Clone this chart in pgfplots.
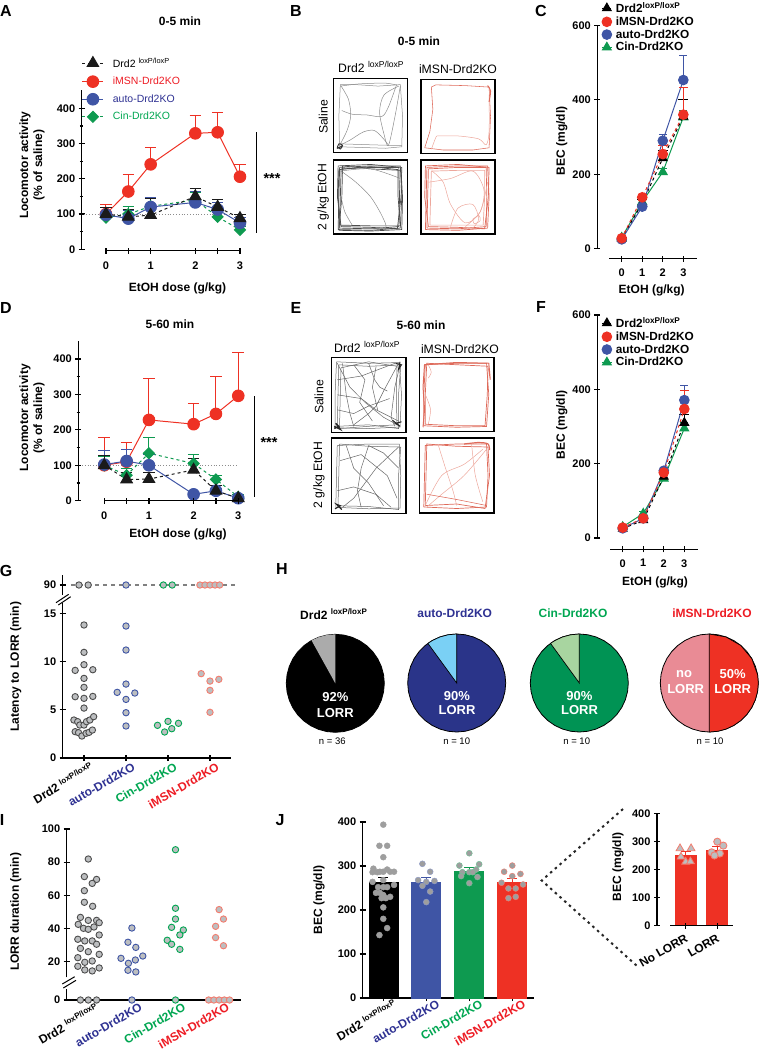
\documentclass[border=0pt]{standalone}
\usepackage{fontspec}
\setmainfont{Liberation Sans}
\usepackage{pgfplots}
\usepackage{pgfplotstable}
\pgfplotsset{compat=1.18}

\definecolor{cred}{HTML}{EE3124}
\definecolor{cblue}{HTML}{3F55A5}
\definecolor{cgreen}{HTML}{0E9A50}
\definecolor{cblack}{HTML}{1A1A1A}
\definecolor{lblue}{HTML}{2E3192}
\definecolor{lgreen}{HTML}{00A651}
\definecolor{lred}{HTML}{ED1C24}
\definecolor{dotfill}{HTML}{BCBEC0}
\definecolor{pinkedge}{HTML}{F47C6E}
\definecolor{trajred}{HTML}{DE6A5A}
\definecolor{trajpink}{HTML}{EDA79C}
\definecolor{skywedge}{HTML}{7AD0F5}
\definecolor{mintwedge}{HTML}{A8D5A0}
\definecolor{rosewedge}{HTML}{E98B95}
\definecolor{piegreen}{HTML}{009354}
\definecolor{pieblue}{HTML}{2A3489}

\pgfplotsset{
  noarrow/.style={axis line style={-, line width=1.5pt, black}},
  base/.style={scale only axis, clip=false, anchor=south west,
    /pgf/number format/assume math mode=true,
    tick label style={font=\fontsize{11}{13}\selectfont\bfseries},
    label style={font=\fontsize{12}{14}\selectfont\bfseries},
    tick style={line width=1.2pt, black},
    major tick length=6pt, minor tick length=3.5pt, tick align=outside},
  yonly/.style={base, axis y line=left, axis x line=none, xtick=\empty, noarrow},
  xonly/.style={base, axis x line=bottom, axis y line=none, ytick=\empty,
    height=1pt, ymin=0, ymax=1, noarrow},
  xyaxis/.style={base, axis x line=bottom, axis y line=left, noarrow},
  errs/.style={/pgfplots/error bars/y dir=plus, /pgfplots/error bars/y explicit,
    /pgfplots/error bars/error bar style={line width=1pt, solid},
    /pgfplots/error bars/error mark options={rotate=90, mark size=#1, line width=1pt, solid}},
  sred/.style={color=cred, line width=1pt, mark=*, mark size=5.8pt, mark options={solid}},
  sblue/.style={color=cblue, line width=1pt, mark=*, mark size=5.8pt, mark options={solid}},
  sblack/.style={color=cblack, line width=1pt, dashed, mark=triangle*, mark size=6.6pt, mark options={solid}},
  sgreen/.style={color=cgreen, line width=1pt, dashed, mark=square*, mark size=3.9pt, mark options={solid, rotate=45}},
  tred/.style={color=cred, line width=1pt, dashed, mark=*, mark size=4.8pt, mark options={solid}},
  tblue/.style={color=cblue, line width=1pt, mark=*, mark size=4.8pt, mark options={solid}},
  tblack/.style={color=black, line width=1pt, dashed, mark=triangle*, mark size=5pt, mark options={solid}},
  tgreen/.style={color=cgreen, line width=1pt, mark=triangle*, mark size=5pt, mark options={solid}},
  pts/.style={only marks, mark=*, mark size=3.2pt, mark options={fill=dotfill, draw=#1, line width=.9pt}},
  box/.style={scale only axis, anchor=south west, xmin=0, xmax=100, ymin=0, ymax=100,
    width=74pt, height=74pt, xtick=\empty, ytick=\empty, axis line style={line width=1.3pt}},
  tg/.style={no marks, smooth, tension=.5, line width=.5pt, draw=black!45},
  tk/.style={no marks, line width=.5pt, draw=black!60},
  tr/.style={no marks, smooth, tension=.5, line width=.55pt, draw=trajred},
  tp/.style={no marks, smooth, tension=.5, line width=.5pt, draw=trajpink},
  rimk/.style={no marks, line width=.7pt, draw=black!70},
  rimr/.style={no marks, line width=.7pt, draw=trajred},
  catlabels/.style={xtick={0,1,2,3},
    xticklabels={{\color{black}\drd},{\color{lblue}auto-Drd2KO},{\color{lgreen}Cin-Drd2KO},{\color{lred}iMSN-Drd2KO}}},
  pie/.style={hide axis, scale only axis, clip=false, anchor=center, width=98pt, height=98pt,
    xmin=-1, xmax=1, ymin=-1, ymax=1, data cs=polar},
  bigleg/.style={legend cell align=left, legend style={draw=none, fill=none,
    font=\fontsize{10.5}{12}\selectfont, row sep=4.5pt, inner sep=0pt,
    /tikz/every odd column/.append style={column sep=7pt}},
    legend image code/.code={\draw[mark repeat=2, mark phase=2, ##1] plot coordinates {(0pt,0pt) (10.5pt,0pt) (21pt,0pt)};}},
  smallleg/.style={legend cell align=left, legend style={draw=none, fill=none,
    font=\fontsize{11.8}{13}\selectfont\bfseries, row sep=-1.3pt, inner sep=0pt,
    /tikz/every odd column/.append style={column sep=1.5pt}},
    legend image code/.code={\draw[mark repeat=2, mark phase=2, ##1] plot coordinates {(0pt,0pt) (5pt,0pt) (10pt,0pt)};}},
}

\pgfplotstableread[row sep=\\]{a r\\0 1\\10 1\\20 1\\30 1\\40 1\\50 1\\60 1\\70 1\\80 1\\90 1\\100 1\\110 1\\120 1\\130 1\\140 1\\150 1\\160 1\\170 1\\180 1\\190 1\\200 1\\210 1\\220 1\\230 1\\240 1\\250 1\\260 1\\270 1\\280 1\\290 1\\300 1\\310 1\\320 1\\330 1\\340 1\\350 1\\}\circlepts
\pgfplotstableread[row sep=\\]{a r\\90 0\\90 1\\100 1\\110 1\\119 1\\}\wedgeeight
\pgfplotstableread[row sep=\\]{a r\\90 0\\90 1\\100 1\\110 1\\120 1\\126 1\\}\wedgeten
\pgfplotstableread[row sep=\\]{a r\\90 1\\70 1\\50 1\\30 1\\10 1\\0 1\\-10 1\\-20 1\\-30 1\\-40 1\\-50 1\\-60 1\\-70 1\\-80 1\\-90 1\\}\halfpie

\newcommand{\txt}[4][]{\node[anchor=center, inner sep=0pt, #1] at (#2pt,-#3pt) {#4};}
\newcommand{\ttl}{\fontsize{12}{14}\selectfont\bfseries}
\newcommand{\reg}{\fontsize{12.2}{14}\selectfont}
\newcommand{\pan}{\fontsize{16}{18}\selectfont\bfseries}
\newcommand{\wh}{\fontsize{13}{15}\selectfont\bfseries\color{white}}
\newcommand{\stars}{\fontsize{14.5}{16}\selectfont\bfseries}
\newcommand{\drd}{Drd2 \textsuperscript{loxP/loxP}}

\begin{document}
\begin{tikzpicture}
\path[use as bounding box] (0pt,0pt) rectangle (759pt,-1050pt);

% panel letters
\txt{6}{11}{\pan A} \txt{296}{11}{\pan B} \txt{541}{11}{\pan C}
\txt{6}{308}{\pan D} \txt{296}{308}{\pan E} \txt{541}{307}{\pan F}
\txt{6}{571}{\pan G} \txt{282}{569}{\pan H} \txt{2}{820}{\pan I} \txt{280}{820}{\pan J}

% ---- A
\txt{180}{21}{\ttl 0-5 min}
\begin{axis}[yonly, bigleg, at={(81.7pt,-249.3pt)}, width=167.2pt, height=159.3pt,
  xmin=-.544, xmax=3.2, ymin=0, ymax=452, ytick={0,100,200,300,400}, minor y tick num=1,
  ylabel={Locomotor activity\\(\% of saline)},
  ylabel style={at={(axis description cs:-.297,.529)}, anchor=center, align=center},
  legend style={at={(axis description cs:0,1.216)}, anchor=north west}]
\addlegendimage{sblack} \addlegendentry{\drd}
\addlegendimage{sred} \addlegendentry{\textcolor{lred}{iMSN-Drd2KO}}
\addlegendimage{sblue} \addlegendentry{\textcolor{lblue}{auto-Drd2KO}}
\addlegendimage{sgreen} \addlegendentry{\textcolor{lgreen}{Cin-Drd2KO}}
\addplot[black!45, dash pattern=on .8pt off 2pt, line width=.8pt, forget plot] coordinates {(-.5,100) (3,100)};
\addplot[sred, errs=5.8pt, forget plot] coordinates {(0,100) +- (0,26) (.5,164) +- (0,49) (1,241) +- (0,49) (2,329) +- (0,52) (2.5,332) +- (0,56) (3,206) +- (0,36)};
\addplot[sgreen, errs=5.8pt, forget plot] coordinates {(0,90) +- (0,15) (.5,100) +- (0,22) (1,122) +- (0,21) (2,140) +- (0,20) (2.5,92) +- (0,18) (3,55) +- (0,10)};
\addplot[sblue, errs=5.8pt, forget plot] coordinates {(0,98) +- (0,22) (.5,87) +- (0,23) (1,120) +- (0,28) (2,133) +- (0,32) (2.5,113) +- (0,20) (3,75) +- (0,15)};
\addplot[sblack, errs=5.8pt, forget plot] coordinates {(0,100) +- (0,20) (.5,92) +- (0,21) (1,97) +- (0,48) (2,150) +- (0,23) (2.5,120) +- (0,22) (3,88) +- (0,12)};
\end{axis}
\begin{axis}[xonly, at={(106pt,-250.7pt)}, width=134pt, xmin=0, xmax=3,
  xtick={0,.5,1,2,2.5,3}, xticklabels={0,,1,2,,3}, xlabel={EtOH dose (g/kg)},
  xticklabel style={yshift=-5pt},
  xlabel style={at={(axis description cs:.534,-37.3)}, anchor=center}]
\end{axis}
\draw[line width=1pt] (256.7pt,-132pt) -- (256.7pt,-233pt);
\txt{272}{179}{\stars ***}

% ---- B
\txt{419}{41}{\ttl 0-5 min}
\txt[anchor=west]{338}{67}{\reg \drd}
\txt{458}{69}{\reg iMSN-Drd2KO}
\txt[rotate=90]{323.3}{117}{\reg Saline}
\txt[rotate=90]{323.3}{197}{\reg 2 g/kg EtOH}
\begin{axis}[box, at={(333.7pt,-152.7pt)}]
\addplot[tg, sharp plot] coordinates {(8,8)(40,7)(70,6)(92,8)(93,50)(90,92)(60,90)(30,92)(9,92)(7,50)(8,8)};
\addplot[tg] coordinates {(8,12)(40,11)(75,10)(92,10)};
\addplot[tg] coordinates {(9,90)(35,93)(70,94)(86,91)};
\addplot[tg] coordinates {(10,90)(20,72)(23,50)(18,30)(8,10)};
\addplot[tg] coordinates {(11,57)(25,52)(45,51)(65,49)(74,62)(85,92)};
\addplot[tg] coordinates {(88,90)(68,78)(62,55)(68,25)(74,10)(83,50)(90,90)};
\addplot[tg] coordinates {(8,10)(22,17)(40,28)(55,30)(68,18)(74,10)};
\addplot[tg, draw=black!80, line width=.9pt] coordinates {(5,8)(9,5)(12,10)(7,12)(5,6)(11,9)};
\end{axis}
\begin{axis}[box, at={(421pt,-153.7pt)}]
\addplot[tr, sharp plot] coordinates {(5,8)(30,5)(70,5)(92,8)(94,50)(92,90)(60,92)(20,93)(14,90)(16,60)(12,30)(5,8)};
\addplot[tp] coordinates {(22,24)(50,24)(78,20)(88,12)(92,30)(92,80)};
\addplot[tp] coordinates {(14,6)(20,22)(22,24)};
\addplot[tr, line width=1pt] coordinates {(90,92)(94,85)(92,70)};
\end{axis}
\begin{axis}[box, at={(333.7pt,-234pt)}]
\addplot[rimk] coordinates {(6,6)(50,5)(90,8)(92,50)(90,92)(50,92)(8,90)(7,50)(6,6)};
\addplot[rimk] coordinates {(8,8)(50,7)(88,10)(89,50)(88,90)(50,90)(10,88)(9,50)(8,8)};
\addplot[rimk] coordinates {(10,10)(50,9)(86,7)(91,50)(92,90)(50,94)(6,92)(5,50)(10,10)};
\addplot[rimk] coordinates {(7,5)(50,4)(92,6)(93,50)(91,86)(50,88)(12,92)(11,50)(7,5)};
\addplot[rimk] coordinates {(9,12)(50,11)(90,11)(87,50)(87,87)(50,91)(7,87)(6,50)(9,12)};
\addplot[tg] coordinates {(9,85)(50,88)(90,75)};
\addplot[tg] coordinates {(10,85)(30,70)(50,50)(65,25)(70,8)(45,8)};
\addplot[tg] coordinates {(10,50)(15,30)(25,12)};
\end{axis}
\begin{axis}[box, at={(421pt,-234pt)}]
\addplot[rimr] coordinates {(6,6)(50,5)(90,8)(92,50)(90,92)(50,92)(8,90)(7,50)(6,6)};
\addplot[rimr] coordinates {(8,8)(50,7)(88,10)(89,50)(88,90)(50,90)(10,88)(9,50)(8,8)};
\addplot[rimr] coordinates {(10,10)(50,9)(86,7)(91,50)(92,90)(50,94)(6,92)(5,50)(10,10)};
\addplot[rimr, draw=trajpink] coordinates {(12,12)(50,12)(84,12)(86,50)(86,86)(50,86)(14,85)(13,50)(12,12)};
\addplot[tp] coordinates {(15,85)(30,70)(40,40)(60,15)(80,30)(90,70)};
\addplot[tp] coordinates {(40,10)(50,35)(70,40)(78,20)(70,8)};
\addplot[tp] coordinates {(10,70)(40,75)(70,85)(85,60)(80,30)(60,10)};
\addplot[tp] coordinates {(70,20)(78,25)(80,18)(72,14)(70,20)};
\end{axis}

% ---- C
\begin{axis}[yonly, smallleg, at={(597.3pt,-248.7pt)}, width=96.3pt, height=223.4pt,
  xmin=-1.188, xmax=3.5, ymin=0, ymax=600, ytick={0,200,400,600},
  ylabel={BEC (mg/dl)},
  ylabel style={at={(axis description cs:-.37,.483)}, anchor=center},
  legend style={at={(axis description cs:.04,1.113)}, anchor=north west}]
\addlegendimage{tblack} \addlegendentry{Drd2\textsuperscript{loxP/loxP}}
\addlegendimage{tred} \addlegendentry{iMSN-Drd2KO}
\addlegendimage{tblue} \addlegendentry{auto-Drd2KO}
\addlegendimage{tgreen} \addlegendentry{Cin-Drd2KO}
\addplot[tgreen, errs=4pt, forget plot] coordinates {(0,30) +- (0,4) (1,126) +- (0,8) (2,206) +- (0,9) (3,353) +- (0,19)};
\addplot[tblack, errs=5pt, forget plot] coordinates {(0,27) +- (0,4) (1,122) +- (0,11) (2,243) +- (0,22) (3,355) +- (0,45)};
\addplot[tblue, errs=4pt, forget plot] coordinates {(0,25) +- (0,4) (1,113) +- (0,8) (2,290) +- (0,17) (3,453) +- (0,65)};
\addplot[tred, errs=4.5pt, forget plot] coordinates {(0,28) +- (0,4) (1,138) +- (0,8) (2,254) +- (0,24) (3,360) +- (0,72)};
\end{axis}
\begin{axis}[xonly, at={(609.3pt,-258.7pt)}, width=88pt, xmin=-.6, xmax=3.68,
  xtick={0,1,2,3}, xlabel={EtOH (g/kg)}, xticklabel style={yshift=-4pt},
  xlabel style={at={(axis description cs:.482,-32)}, anchor=center}]
\end{axis}

% ---- D
\txt{170}{324}{\ttl 5-60 min}
\begin{axis}[yonly, at={(78.3pt,-500.7pt)}, width=168.9pt, height=160pt,
  xmin=-.582, xmax=3.2, ymin=0, ymax=451.6, ytick={0,100,200,300,400}, minor y tick num=1,
  ylabel={Locomotor activity\\(\% of saline)},
  ylabel style={at={(axis description cs:-.274,.517)}, anchor=center, align=center}]
\addplot[black!45, dash pattern=on .8pt off 2pt, line width=.8pt] coordinates {(-.5,100) (3,100)};
\addplot[sred, errs=5.8pt] coordinates {(0,100) +- (0,79) (.5,110) +- (0,55) (1,228) +- (0,116) (2,216) +- (0,57) (2.5,245) +- (0,105) (3,296) +- (0,122)};
\addplot[sgreen, errs=5.8pt] coordinates {(0,100) +- (0,25) (.5,72) +- (0,20) (1,134) +- (0,43) (2,105) +- (0,25) (2.5,60) +- (0,10) (3,11) +- (0,7)};
\addplot[sblue, errs=5.8pt] coordinates {(0,102) +- (0,41) (.5,112) +- (0,33) (1,100) +- (0,30) (2,18) +- (0,7) (2.5,28) +- (0,7) (3,7) +- (0,5)};
\addplot[sblack, errs=5.8pt] coordinates {(0,100) +- (0,27) (.5,60) +- (0,20) (1,61) +- (0,19) (2,87) +- (0,31) (2.5,28) +- (0,14) (3,7) +- (0,5)};
\end{axis}
\begin{axis}[xonly, at={(104.3pt,-500.7pt)}, width=134pt, xmin=0, xmax=3,
  xtick={0,.5,1,2,2.5,3}, xticklabels={0,,1,2,,3}, xlabel={EtOH dose (g/kg)},
  xticklabel style={yshift=-5pt},
  xlabel style={at={(axis description cs:.55,-33.3)}, anchor=center}]
\end{axis}
\draw[line width=1pt] (254pt,-396pt) -- (254pt,-497pt);
\txt{269}{442.5}{\stars ***}

% ---- E
\txt{421}{325.7}{\ttl 5-60 min}
\txt[anchor=west]{334}{347}{\reg \drd}
\txt{460}{349}{\reg iMSN-Drd2KO}
\txt[rotate=90]{319}{397}{\reg Saline}
\txt[rotate=90]{319}{475}{\reg 2 g/kg EtOH}
\begin{axis}[box, at={(331.3pt,-432.3pt)}, width=74.7pt, height=75pt]
\addplot[tk] coordinates {(5,6)(50,5)(92,7)(94,50)(91,93)(50,92)(7,94)(5,50)(5,6)};
\addplot[tk] coordinates {(8,8)(50,10)(90,5)(90,50)(93,90)(50,88)(10,90)(9,50)(8,8)};
\addplot[tk] coordinates {(11,5)(50,8)(88,10)(87,50)(88,88)(50,94)(13,86)(12,50)(11,5)};
\addplot[tk] coordinates {(8,92)(25,60)(45,40)(70,20)(92,8)};
\addplot[tk] coordinates {(15,92)(20,50)(25,25)(30,8)};
\addplot[tk] coordinates {(8,70)(40,75)(85,92)};
\addplot[tk] coordinates {(90,92)(70,55)(60,35)(50,25)(30,10)};
\addplot[tk] coordinates {(92,90)(85,60)(80,20)(85,8)};
\addplot[tk] coordinates {(50,92)(58,70)(65,60)(75,55)};
\addplot[tk] coordinates {(8,50)(40,45)(60,30)(90,15)};
\addplot[tk] coordinates {(60,88)(55,60)(62,30)};
\addplot[tk] coordinates {(30,90)(45,70)(38,40)(55,15)};
\addplot[tk] coordinates {(8,30)(30,25)(50,35)(78,45)};
\addplot[tk, line width=1.4pt, draw=black!85] coordinates {(4,5)(10,8)(6,12)(12,4)(4,8)};
\addplot[tk, line width=1pt, draw=black!85] coordinates {(82,16)(92,8)(86,12)(94,14)};
\addplot[tk, line width=1pt, draw=black!85] coordinates {(86,92)(94,90)(90,84)(92,94)};
\end{axis}
\begin{axis}[box, at={(419.3pt,-431.7pt)}, width=74.7pt, height=74.4pt]
\addplot[rimr] coordinates {(6,8)(50,6)(90,7)(93,50)(90,92)(50,92)(8,90)(6,50)(6,8)};
\addplot[rimr] coordinates {(8,10)(50,8)(88,8)(91,50)(92,88)(50,90)(10,92)(8,50)(8,10)};
\addplot[rimr, line width=1pt] coordinates {(5,6)(7,30)(5,60)(7,90)(50,93)(93,92)(95,70)(93,85)};
\addplot[tp] coordinates {(8,50)(15,30)(12,10)};
\addplot[tp] coordinates {(12,90)(16,80)(12,72)};
\end{axis}
\begin{axis}[box, at={(331.3pt,-513.3pt)}, width=74.7pt, height=75.3pt]
\addplot[tk] coordinates {(6,8)(50,6)(92,7)(93,50)(91,92)(50,92)(8,90)(7,50)(6,8)};
\addplot[tk] coordinates {(9,10)(50,9)(90,5)(90,50)(93,88)(50,89)(11,92)(10,50)(9,10)};
\addplot[tk] coordinates {(20,90)(30,60)(50,40)(70,10)};
\addplot[tk] coordinates {(8,30)(30,35)(60,25)(80,8)};
\addplot[tk] coordinates {(90,88)(60,60)(30,20)(15,8)};
\addplot[tk] coordinates {(50,90)(40,60)(35,30)(40,8)};
\addplot[tk] coordinates {(90,60)(70,80)(50,90)};
\addplot[tk] coordinates {(12,70)(40,78)(75,50)(88,20)};
\addplot[tk, line width=1.2pt, draw=black!85] coordinates {(5,6)(12,10)(7,12)(14,5)};
\end{axis}
\begin{axis}[box, at={(419.3pt,-513pt)}, width=74.7pt, height=75pt]
\addplot[rimr] coordinates {(6,8)(50,6)(90,8)(92,50)(90,92)(50,92)(8,90)(7,50)(6,8)};
\addplot[rimr] coordinates {(8,10)(50,12)(88,6)(94,50)(92,88)(50,89)(10,92)(9,50)(8,10)};
\addplot[tp] coordinates {(8,10)(30,50)(60,65)(85,85)};
\addplot[tp] coordinates {(25,92)(35,60)(45,30)(50,10)};
\addplot[tp] coordinates {(70,92)(75,50)(85,15)};
\addplot[tp] coordinates {(90,85)(60,50)(30,25)(10,8)};
\addplot[tr] coordinates {(10,25)(50,18)(90,10)};
\addplot[tr, line width=1.2pt] coordinates {(60,92)(80,94)(92,92)(94,84)};
\end{axis}

% ---- F
\begin{axis}[yonly, smallleg, at={(597.3pt,-538pt)}, width=97.3pt, height=223pt,
  xmin=-1.237, xmax=3.5, ymin=0, ymax=600, ytick={0,200,400,600},
  ylabel={BEC (mg/dl)},
  ylabel style={at={(axis description cs:-.366,.507)}, anchor=center},
  legend style={at={(axis description cs:.04,1.0),}, anchor=north west}]
\addlegendimage{tblack} \addlegendentry{Drd2\textsuperscript{loxP/loxP}}
\addlegendimage{tred} \addlegendentry{iMSN-Drd2KO}
\addlegendimage{tblue} \addlegendentry{auto-Drd2KO}
\addlegendimage{tgreen} \addlegendentry{Cin-Drd2KO}
\addplot[tgreen, errs=4pt, forget plot] coordinates {(0,30) +- (0,4) (1,66) +- (0,6) (2,160) +- (0,8) (3,295) +- (0,15)};
\addplot[tblack, errs=5pt, forget plot] coordinates {(0,25) +- (0,4) (1,48) +- (0,5) (2,165) +- (0,10) (3,310) +- (0,21)};
\addplot[tblue, errs=4pt, forget plot] coordinates {(0,26) +- (0,4) (1,53) +- (0,5) (2,181) +- (0,8) (3,371) +- (0,38)};
\addplot[tred, errs=4.5pt, forget plot] coordinates {(0,28) +- (0,4) (1,53) +- (0,5) (2,176) +- (0,8) (3,347) +- (0,49)};
\end{axis}
\begin{axis}[xonly, at={(610pt,-549.3pt)}, width=87.7pt, xmin=-.618, xmax=3.654,
  xtick={0,1,2,3}, xlabel={EtOH (g/kg)}, xticklabel style={yshift=-3.5pt},
  xlabel style={at={(axis description cs:.513,-33.4)}, anchor=center}]
\end{axis}

% ---- G
\begin{axis}[yonly, at={(62.7pt,-595pt)}, width=168.3pt, height=20pt,
  xmin=-.507, xmax=3.5, ymin=80, ymax=100, ytick={90}]
\addplot[black!50, line width=2.6pt, dash pattern=on 4.5pt off 3.5pt] coordinates {(-.31,90) (3.63,90)};
\addplot[pts=black!70] coordinates {(-.12,90) (.1,90)};
\addplot[pts=cblue] coordinates {(1,90)};
\addplot[pts=lgreen] coordinates {(1.89,90) (2.1,90)};
\addplot[pts=pinkedge] coordinates {(2.76,90) (2.88,90) (3,90) (3.12,90) (3.23,90)};
\end{axis}
\begin{axis}[xyaxis, at={(62.7pt,-758pt)}, width=168.3pt, height=155pt,
  xmin=-.507, xmax=3.5, ymin=0, ymax=16.08, ytick={0,5,10,15}, catlabels,
  xticklabel style={xshift=7pt, yshift=4pt, rotate=30, anchor=north east, font=\fontsize{12}{14}\selectfont\bfseries},
  ylabel={Latency to LORR (min)},
  ylabel style={at={(axis description cs:-.279,.589)}, anchor=center}]
\addplot[pts=black!70] coordinates {(0,13.8)(0,10.96)(0,9.68)(-.21,9.09)(.21,9.16)(0,8.26)(0,7.33)(-.21,6.36)(0,6.19)(.21,6.39)(0,5.18)(-.24,3.94)(-.15,3.77)(-.1,3.42)(0,3.42)(.06,3.77)(.14,3.94)(.23,4.29)(-.21,2.73)(-.13,2.63)(-.05,2.28)(.05,2.56)(.12,2.66)(.2,2.9)};
\addplot[pts=cblue] coordinates {(1,13.69)(1,11.2)(1,7.67)(.79,6.81)(1.21,6.74)(1,6.08)(1,4.7)(1,3.32)};
\addplot[pts=lgreen] coordinates {(1.75,3.39)(2,3.8)(1.92,2.7)(2.09,3.04)(2.25,3.6)};
\addplot[pts=pinkedge] coordinates {(2.79,8.75)(3,7.98)(3.21,8.16)(3,7.02)(3,4.74)};
\end{axis}
\draw[line width=1pt] (56pt,-602.7pt) -- (68.7pt,-594.3pt) (58.3pt,-605pt) -- (70.7pt,-596.7pt);

% ---- H
\txt[anchor=west]{300}{614}{\ttl \drd}
\txt{454.7}{613}{\ttl\color{lblue} auto-Drd2KO}
\txt{573}{613}{\ttl\color{lgreen} Cin-Drd2KO}
\txt{712}{613.5}{\ttl\color{lred} iMSN-Drd2KO}
\begin{axis}[pie, at={(335.3pt,-683.3pt)}]
\addplot[fill=black, draw=black, line width=.8pt] table[x=a, y=r] {\circlepts} -- cycle;
\addplot[fill=black!33, draw=none] table[x=a, y=r] {\wedgeeight} -- cycle;
\end{axis}
\begin{axis}[pie, at={(456.7pt,-683pt)}]
\addplot[fill=pieblue, draw=black, line width=.8pt] table[x=a, y=r] {\circlepts} -- cycle;
\addplot[fill=skywedge, draw=black, line width=.7pt] table[x=a, y=r] {\wedgeten} -- cycle;
\end{axis}
\begin{axis}[pie, at={(579.3pt,-683pt)}]
\addplot[fill=piegreen, draw=black, line width=.8pt] table[x=a, y=r] {\circlepts} -- cycle;
\addplot[fill=mintwedge, draw=black, line width=.7pt] table[x=a, y=r] {\wedgeten} -- cycle;
\end{axis}
\begin{axis}[pie, at={(709.3pt,-683pt)}]
\addplot[fill=rosewedge, draw=black, line width=.8pt] table[x=a, y=r] {\circlepts} -- cycle;
\addplot[fill=cred, draw=black, line width=.7pt] table[x=a, y=r] {\halfpie} -- cycle;
\end{axis}
\txt{335.3}{697.3}{\wh 92\%} \txt{335.3}{713.3}{\wh LORR}
\txt{457}{696}{\wh 90\%} \txt{457}{710}{\wh LORR}
\txt{579.5}{696}{\wh 90\%} \txt{579.5}{710}{\wh LORR}
\txt{684}{674}{\wh no} \txt{685.7}{688.7}{\wh LORR}
\txt{732.7}{674}{\wh 50\%} \txt{732.7}{688.7}{\wh LORR}
\txt{332.3}{741.7}{\fontsize{9.5}{11}\selectfont n = 36}
\txt{456.7}{741.7}{\fontsize{9.5}{11}\selectfont n = 10}
\txt{576.7}{741.7}{\fontsize{9.5}{11}\selectfont n = 10}
\txt{710}{741.7}{\fontsize{9.5}{11}\selectfont n = 10}

% ---- I
\begin{axis}[yonly, at={(66.7pt,-977.3pt)}, width=174pt, height=148.3pt,
  xmin=-.495, xmax=3.495, ymin=10.55, ymax=100, ytick={20,40,60,80,100},
  ylabel={LORR duration (min)},
  ylabel style={at={(axis description cs:-.293,.442)}, anchor=center}]
\addplot[pts=black!70] coordinates {(0,81.9)(-.09,71.3)(.19,69.6)(.09,67.2)(-.09,62.8)(-.09,55.8)(.1,53.4)(-.18,46.7)(0,44.9)(.19,44.9)(.25,43.5)(-.23,42.5)(-.11,40.1)(0,39.5)(.13,40.9)(.25,36.1)(-.24,33.5)(-.08,32.5)(.09,32.5)(.19,30.5)(-.18,28)(0,26)(.25,24.4)(-.24,22.4)(.09,20.4)(-.08,19.6)(-.24,17.2)(.25,16.2)(-.08,15)(.09,14.4)};
\addplot[pts=cblue] coordinates {(1,40.3)(.91,31.7)(1.09,28.6)(1.25,23.4)(.75,22)(1.08,21)(.92,19)(.91,14.8)(1.09,13.8)};
\addplot[pts=lgreen] coordinates {(2,87.5)(2,52.2)(2,45.7)(1.91,40.7)(2.18,39.1)(2.1,36.1)(1.81,32.9)(1.91,30.5)(2.1,27.4)};
\addplot[pts=pinkedge] coordinates {(3,51.4)(3.1,45.7)(2.92,41.3)(2.92,34.5)(3.1,29.6)};
\end{axis}
\begin{axis}[xyaxis, at={(66.7pt,-1000pt)}, width=174pt, height=11pt,
  xmin=-.495, xmax=3.495, ymin=0, ymax=6.63, ytick={0}, catlabels,
  xticklabel style={xshift=8pt, yshift=5.5pt, rotate=30, anchor=north east, font=\fontsize{12}{14}\selectfont\bfseries}]
\addplot[pts=black!70] coordinates {(-.18,0)(0,0)(.19,0)};
\addplot[pts=cblue] coordinates {(1,0)};
\addplot[pts=lgreen] coordinates {(2,0)};
\addplot[pts=pinkedge] coordinates {(2.76,0)(2.88,0)(3,0)(3.12,0)(3.24,0)};
\end{axis}
\draw[line width=1pt] (62.3pt,-984pt) -- (74.7pt,-976.7pt) (63.3pt,-988pt) -- (76pt,-980.3pt);

% ---- J
\begin{axis}[xyaxis, at={(362.7pt,-998pt)}, width=171.3pt, height=176pt,
  xmin=-.479, xmax=3.505, ymin=0, ymax=400, ytick={0,100,200,300,400}, catlabels,
  xticklabel style={xshift=11pt, yshift=7pt, rotate=30, anchor=north east, font=\fontsize{12}{14}\selectfont\bfseries},
  ylabel={BEC (mg/dl)},
  ylabel style={at={(axis description cs:-.255,.557)}, anchor=center}]
\addplot[ybar, bar width=29pt, fill=black, draw=black, errs=5pt] coordinates {(0,264) +- (0,11)};
\addplot[ybar, bar width=29pt, fill=cblue, draw=cblue!65!white, line width=.8pt, errs=5pt, color=cblue] coordinates {(1,262) +- (0,11)};
\addplot[ybar, bar width=29pt, fill=cgreen, draw=cgreen!65!white, line width=.8pt, errs=5pt, color=cgreen] coordinates {(2,288) +- (0,8)};
\addplot[ybar, bar width=29pt, fill=cred, draw=cred!65!white, line width=.8pt, errs=5pt, color=cred] coordinates {(3,262) +- (0,10)};
\addplot[pts=black!30, mark size=3pt, mark options={fill=black!38, draw=black!38}] coordinates {(0,394)(-.09,346)(.09,346)(0,320)(-.23,294)(.09,292)(-.08,287)(-.25,286)(-.14,286)(0,287)(.16,287)(.25,287)(-.25,264)(0,268)(.25,257)(-.12,252)(0,252)(.09,252)(-.17,239)(-.08,239)(0,234)(.16,230)(-.04,227)(.06,227)(0,206)(0,180)(.09,159)(-.09,143)};
\addplot[pts=cblue!60!white, mark size=3pt, mark options={fill=black!38, draw=cblue!60!white}] coordinates {(.91,305)(1.09,287)(.81,268)(1,264)(1.19,266)(.91,255)(1.09,242)(1,218)};
\addplot[pts=cgreen!60!white, mark size=3pt, mark options={fill=black!38, draw=cgreen!60!white}] coordinates {(2,329)(1.77,301)(2.23,304)(2.16,292)(1.84,286)(2,286)(2.08,286)(1.81,277)(2.19,275)(2,261)};
\addplot[pts=pinkedge, mark size=3pt, mark options={fill=black!38, draw=pinkedge}] coordinates {(3,301)(2.81,287)(3.19,282)(3,277)(2.75,262)(3.25,258)(3.08,249)(2.91,249)(3.08,230)(2.91,227)};
\end{axis}

% ---- inset of J
\begin{axis}[yonly, at={(657pt,-925.7pt)}, width=75.7pt, height=112pt,
  xmin=-.908, xmax=1.487, ymin=0, ymax=400, ytick={0,100,200,300,400},
  ylabel={BEC (mg/dl)},
  ylabel style={at={(axis description cs:-.515,.527)}, anchor=center}]
\addplot[ybar, bar width=21pt, fill=cred, draw=cred!65!white, line width=.8pt, color=cred, errs=5pt] coordinates {(0,252) +- (0,13)};
\addplot[ybar, bar width=21pt, fill=cred, draw=cred!65!white, line width=.8pt, color=cred, errs=5pt] coordinates {(1,268) +- (0,14)};
\addplot[only marks, mark=triangle*, mark size=4.5pt, mark options={fill=dotfill, draw=pinkedge, line width=.8pt}] coordinates {(-.18,276)(.17,276)(-.15,246)(0,228)(.15,229)};
\addplot[pts=pinkedge, mark size=3.6pt] coordinates {(1,300)(1.19,286)(.82,262)(1.08,258)(.91,251)};
\end{axis}
\begin{axis}[xonly, at={(670pt,-925.7pt)}, width=62.7pt, xmin=-.497, xmax=1.487,
  xtick={0,1}, xticklabels={No LORR,LORR},
  xticklabel style={rotate=30, anchor=north east, font=\fontsize{12}{14}\selectfont\bfseries}]
\end{axis}
\draw[line width=2pt, dash pattern=on 2.5pt off 3.8pt, black!85] (623pt,-809pt) -- (541.7pt,-880.5pt) -- (636.7pt,-965.7pt);

\end{tikzpicture}
\end{document}
